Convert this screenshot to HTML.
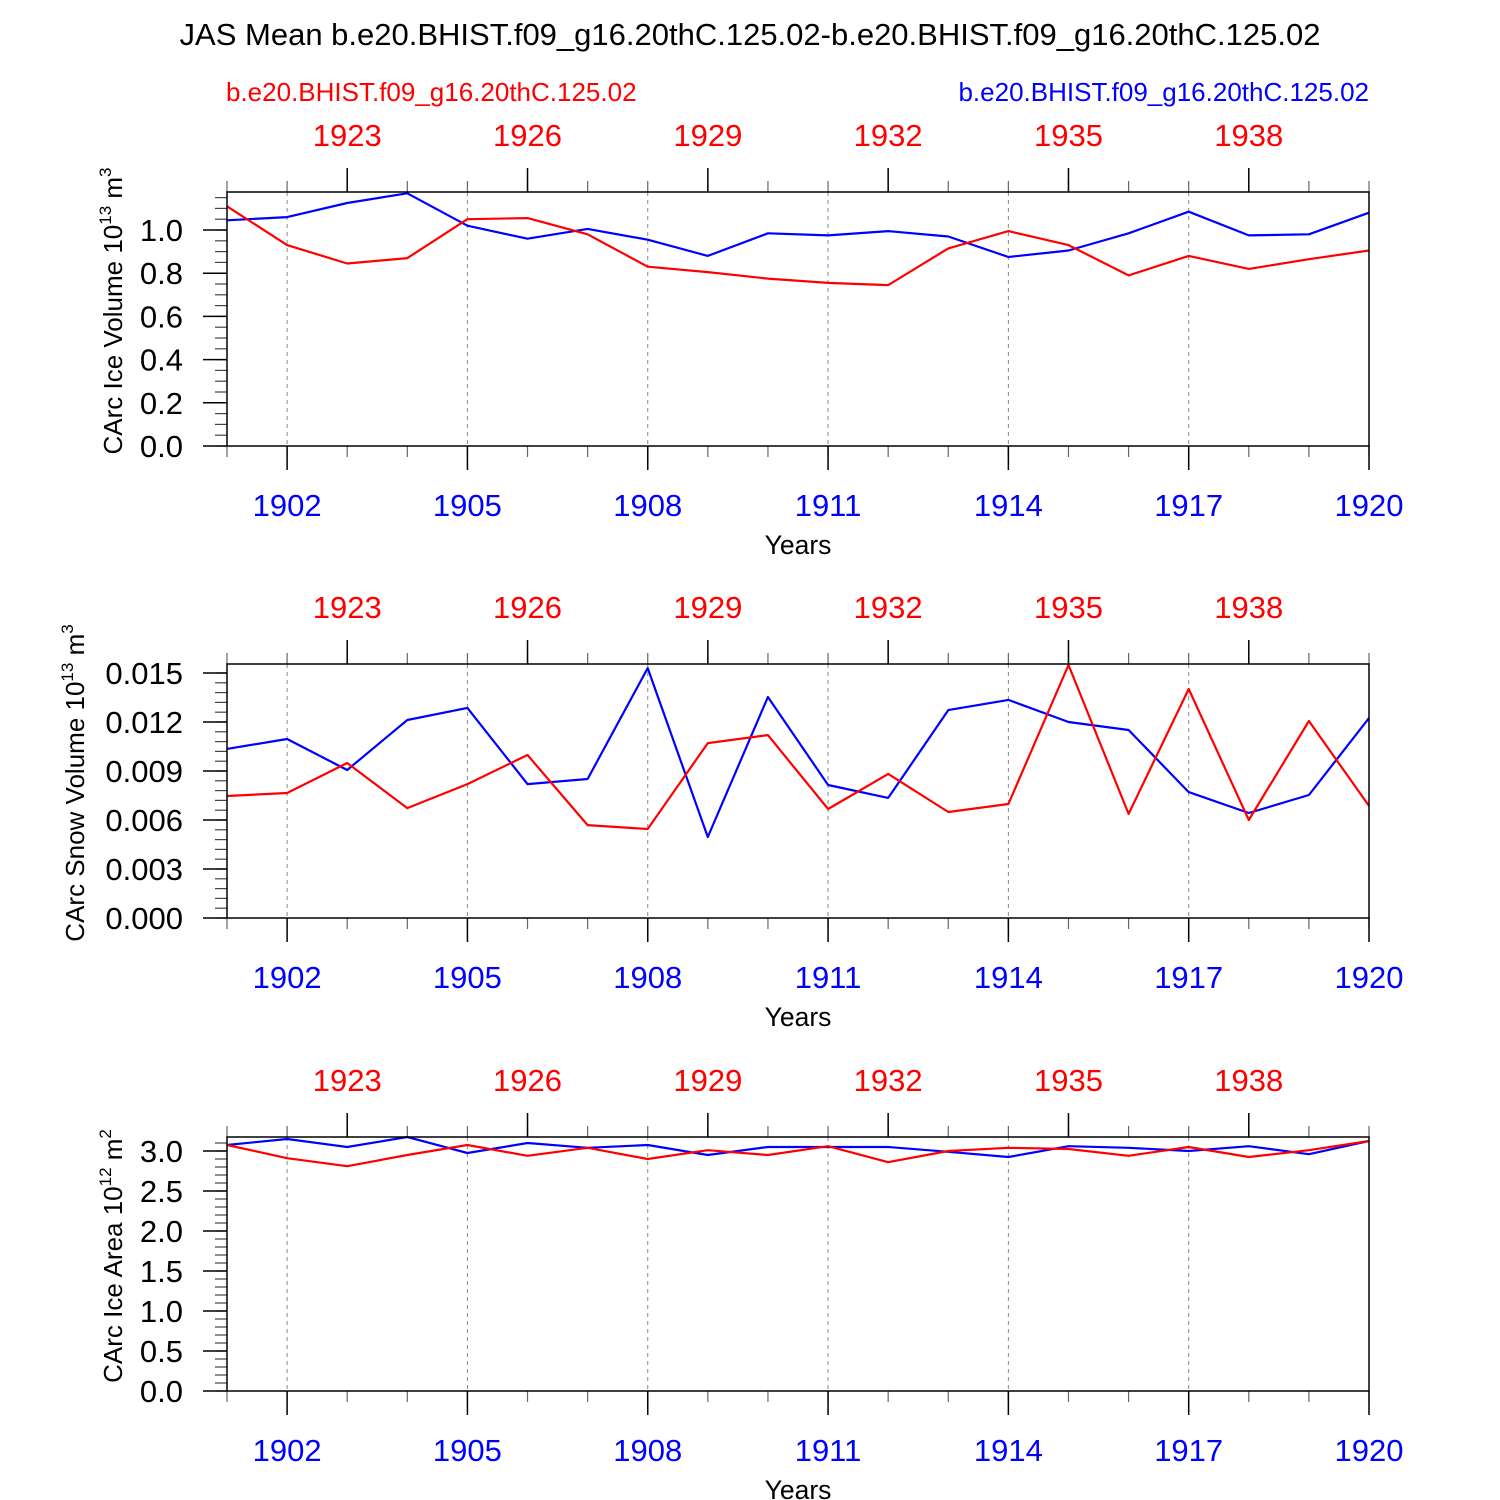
<!DOCTYPE html>
<html><head><meta charset="utf-8"><style>
html,body{margin:0;padding:0;background:#fff}
svg{display:block;font-family:"Liberation Sans",sans-serif}
</style></head><body>
<svg id="chart" width="1500" height="1500" viewBox="0 0 1500 1500" xmlns="http://www.w3.org/2000/svg">
<text x="750" y="45" font-size="31" text-anchor="middle">JAS Mean b.e20.BHIST.f09_g16.20thC.125.02-b.e20.BHIST.f09_g16.20thC.125.02</text>
<text x="226" y="101" font-size="26" fill="#ff0000">b.e20.BHIST.f09_g16.20thC.125.02</text>
<text x="1369" y="101" font-size="26" fill="#0000ff" text-anchor="end">b.e20.BHIST.f09_g16.20thC.125.02</text>
</svg>
<script>
const years = [1901,1902,1903,1904,1905,1906,1907,1908,1909,1910,1911,1912,1913,1914,1915,1916,1917,1918,1919,1920];
const bottomTickYears = [1902,1905,1908,1911,1914,1917,1920];
const topTickYears = [1923,1926,1929,1932,1935,1938];
const yearOffset = 20;

const iceVolBlue = [1.045,1.06,1.125,1.17,1.02,0.96,1.005,0.955,0.88,0.985,0.975,0.995,0.97,0.875,0.905,0.985,1.085,0.975,0.98,1.08];
const iceVolRed = [1.11,0.93,0.845,0.87,1.05,1.055,0.98,0.83,0.805,0.775,0.755,0.745,0.915,0.995,0.93,0.79,0.88,0.82,0.865,0.905];
const snowVolBlue = [0.01035,0.01096,0.00906,0.01212,0.01286,0.0082,0.00851,0.0153,0.00496,0.01353,0.00814,0.00735,0.01273,0.01335,0.012,0.01151,0.00771,0.00643,0.00753,0.01224];
const snowVolRed = [0.00747,0.00765,0.00949,0.00673,0.0082,0.00998,0.00569,0.00545,0.01071,0.0112,0.00667,0.00882,0.00649,0.00698,0.01549,0.00637,0.01402,0.006,0.01206,0.00686];
const iceAreaBlue = [3.075,3.15,3.05,3.175,2.975,3.1,3.04,3.075,2.95,3.05,3.05,3.05,2.99,2.925,3.06,3.04,3.0,3.06,2.96,3.125];
const iceAreaRed = [3.075,2.91,2.81,2.95,3.075,2.94,3.04,2.9,3.01,2.95,3.06,2.86,3.0,3.04,3.025,2.94,3.05,2.925,3.01,3.125];

const iceVolTicks = ["0.0","0.2","0.4","0.6","0.8","1.0"];
const snowVolTicks = ["0.000","0.003","0.006","0.009","0.012","0.015"];
const iceAreaTicks = ["0.0","0.5","1.0","1.5","2.0","2.5","3.0"];

const NS = "http://www.w3.org/2000/svg";
const svg = document.getElementById("chart");
const X0 = 227, X1 = 1369;
function xScale(yr){ return X0 + (yr - years[0]) * (X1 - X0) / (years[years.length-1] - years[0]); }
function mk(tag, attrs, parent){
  const e = document.createElementNS(NS, tag);
  for (const k in attrs) e.setAttribute(k, attrs[k]);
  (parent || svg).appendChild(e);
  return e;
}

function panel(name, top, ymax, tickLabels, minorStep, blue, red, ylabelMain, ylabelExp, ylabelUnit, ytitleX){
  const bot = top + 254;
  const g = mk("g", {});
  
  
  const yScale = v => bot - v / ymax * (bot - top);
  bottomTickYears.forEach(yr => {
    if (yr === years[years.length-1]) return;
    const l = mk("line", {x1:xScale(yr), x2:xScale(yr), y1:top, y2:bot, stroke:"#888", "stroke-width":1, "stroke-dasharray":"4,4"}, g);
    
    
  });
  for (let v = 0; v <= ymax + 1e-9; v += minorStep) {
    const y = yScale(v);
    const l = mk("line", {x1:X0-12, x2:X0, y1:y, y2:y, stroke:"#444", "stroke-width":1.2}, g);
    
    
  }
  tickLabels.forEach(lbl => {
    const v = parseFloat(lbl);
    const y = yScale(v);
    const l = mk("line", {x1:X0-24, x2:X0, y1:y, y2:y, stroke:"#000", "stroke-width":1.5}, g);
    
    
    const t = mk("text", {x:X0-44, y:y+11, "font-size":31, "text-anchor":"end"}, g);
    t.textContent = lbl;
    
    
  });
  years.forEach(yr => {
    const x = xScale(yr);
    const a = mk("line", {x1:x, x2:x, y1:bot, y2:bot+11, stroke:"#666", "stroke-width":1.2}, g);
    
    
    const b = mk("line", {x1:x, x2:x, y1:top-11, y2:top, stroke:"#666", "stroke-width":1.2}, g);
    
    
  });
  bottomTickYears.forEach(yr => {
    const x = xScale(yr);
    const l = mk("line", {x1:x, x2:x, y1:bot, y2:bot+24, stroke:"#000", "stroke-width":1.5}, g);
    
    
    const t = mk("text", {x:x, y:bot+70, "font-size":31, "text-anchor":"middle", fill:"#0000ff"}, g);
    t.textContent = yr;
    
    
  });
  topTickYears.forEach(yr => {
    const x = xScale(yr - yearOffset);
    const l = mk("line", {x1:x, x2:x, y1:top-24, y2:top, stroke:"#000", "stroke-width":1.5}, g);
    
    
    const t = mk("text", {x:x, y:top-46, "font-size":31, "text-anchor":"middle", fill:"#ff0000"}, g);
    t.textContent = yr;
    
    
  });
  [[blue, "#0000ff", "blue-series"], [red, "#ff0000", "red-series"]].forEach(([arr, col, nm]) => {
    const pts = arr.map((v, i) => xScale(years[i]).toFixed(1) + "," + yScale(v).toFixed(1)).join(" ");
    const p = mk("polyline", {points:pts, fill:"none", stroke:col, "stroke-width":2.2, "stroke-linejoin":"round"}, g);
    
    
  });
  const r = mk("rect", {x:X0, y:top, width:X1-X0, height:bot-top, fill:"none", stroke:"#000", "stroke-width":1.5}, g);
  
  
  const xt = mk("text", {x:798, y:bot+108, "font-size":26.5, "text-anchor":"middle"}, g);
  xt.textContent = "Years";
  
  
  const cy = (top + bot) / 2 - 8;
  const yt = mk("text", {x:0, y:0, "font-size":26, "text-anchor":"middle", transform:"translate(" + ytitleX + "," + cy + ") rotate(-90)"}, g);
  
  
  const s1 = mk("tspan", {}, yt); s1.textContent = ylabelMain + " 10";
  const s2 = mk("tspan", {dy:-11, "font-size":17}, yt); s2.textContent = ylabelExp;
  const s3 = mk("tspan", {dy:11}, yt); s3.textContent = " m";
  const s4 = mk("tspan", {dy:-11, "font-size":17}, yt); s4.textContent = ylabelUnit;
}

panel("ice-volume", 192, 1.176, iceVolTicks, 0.05, iceVolBlue, iceVolRed, "CArc Ice Volume", "13", "3", 122);
panel("snow-volume", 664, 0.01555, snowVolTicks, 0.0006, snowVolBlue, snowVolRed, "CArc Snow Volume", "13", "3", 84);
panel("ice-area", 1137, 3.175, iceAreaTicks, 0.1, iceAreaBlue, iceAreaRed, "CArc Ice Area", "12", "2", 122);
</script>
</body></html>
